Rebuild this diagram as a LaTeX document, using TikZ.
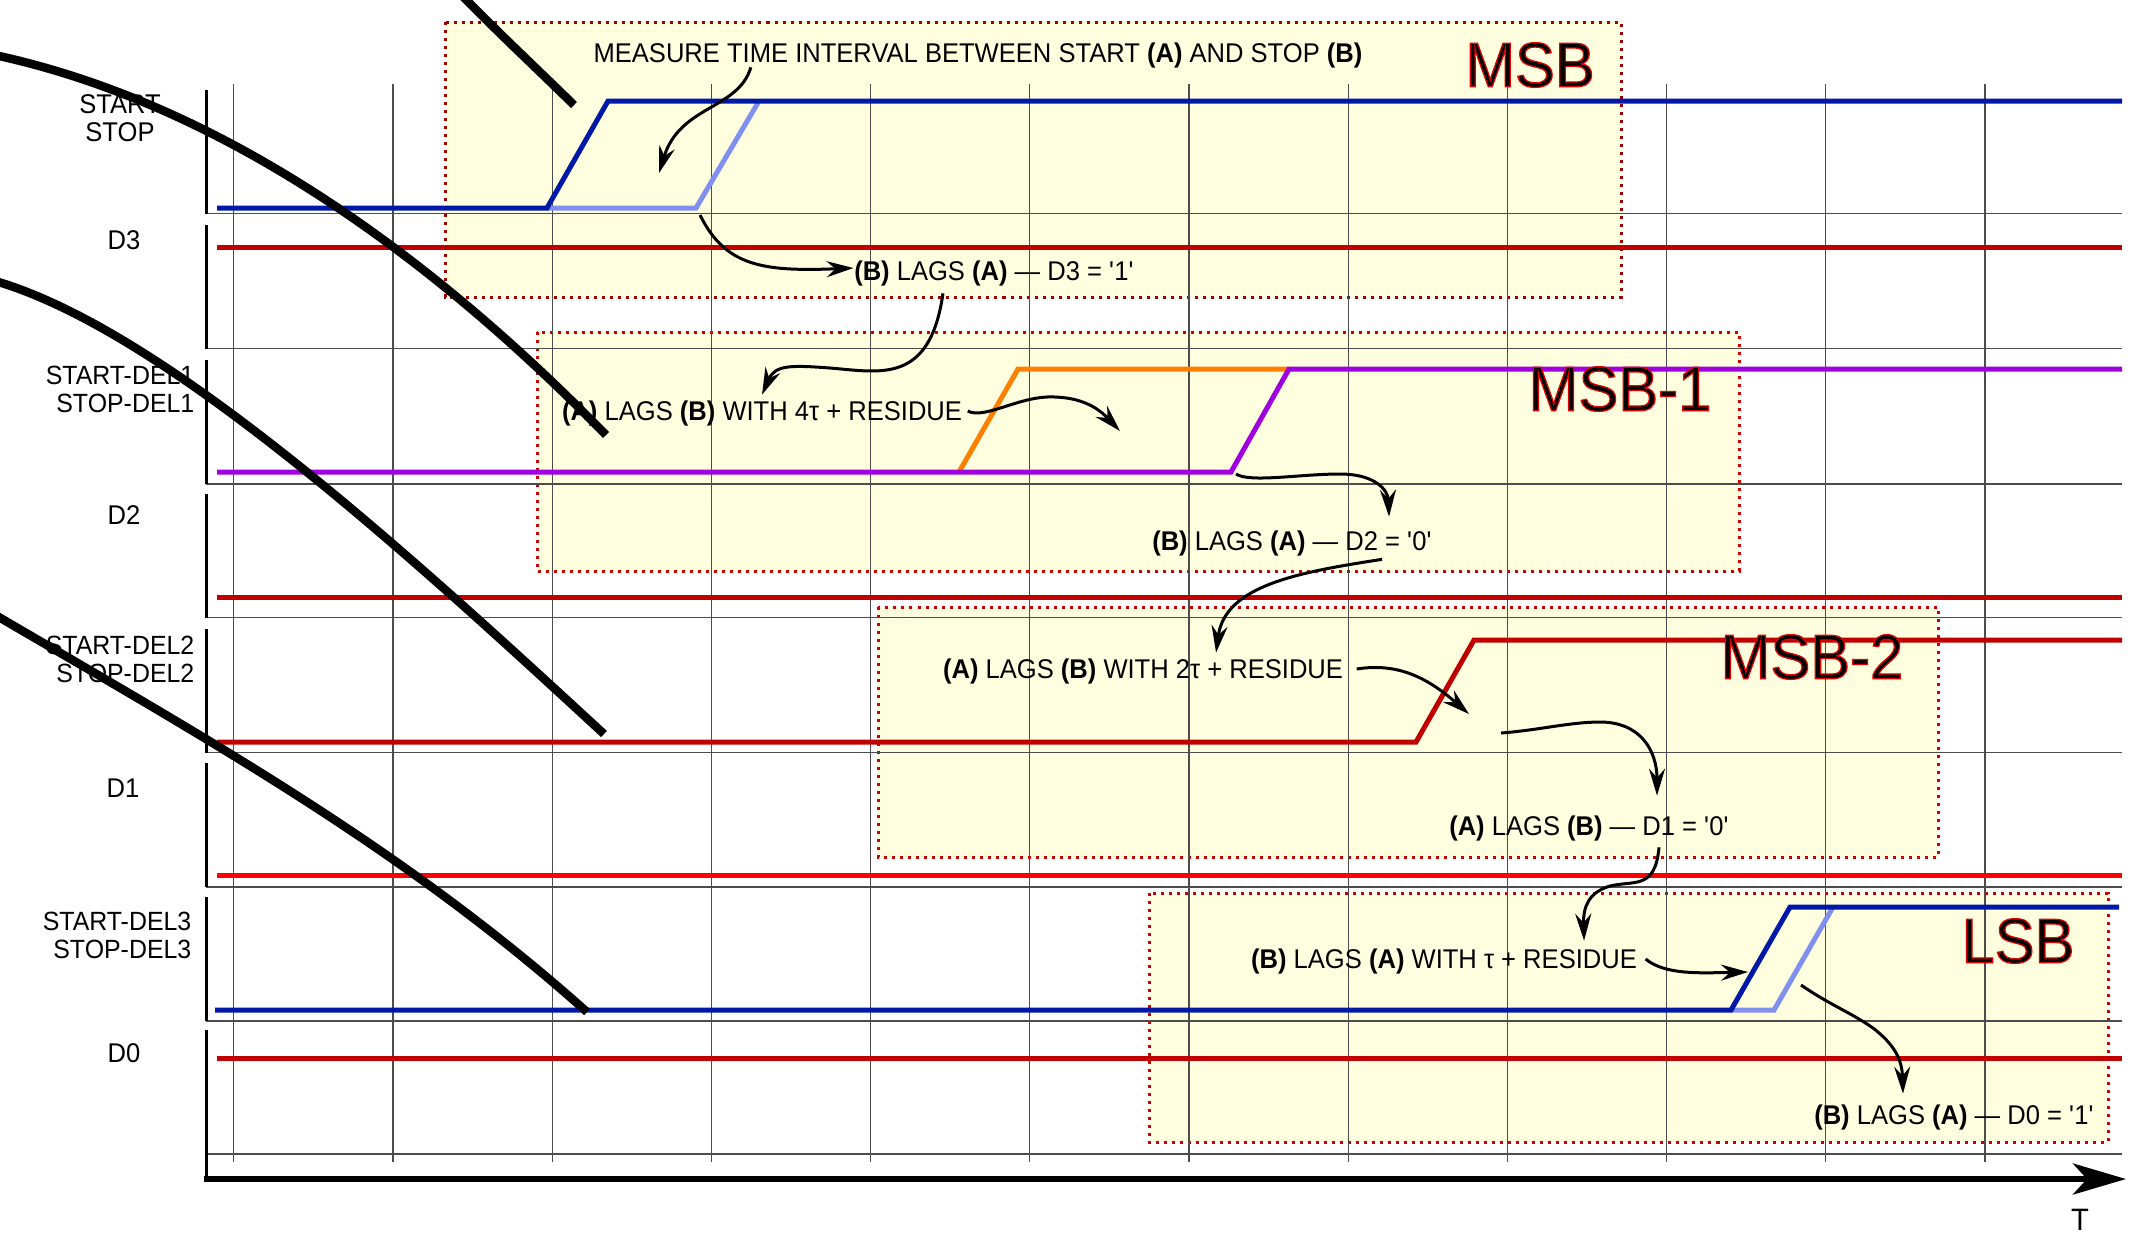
\documentclass[tikz,border=0pt]{standalone}
\usepackage{fontspec}
\usepackage{xcolor}
\setmainfont[FakeStretch=0.944]{Liberation Sans}
\usetikzlibrary{arrows.meta,positioning,calc}
\definecolor{sigblue}{HTML}{0018A8}
\definecolor{siglight}{HTML}{8090F0}
\definecolor{sigred}{HTML}{C00000}
\definecolor{sigbright}{HTML}{FF0000}
\definecolor{sigpurple}{HTML}{A000E0}
\definecolor{sigorange}{HTML}{FF8000}
\definecolor{stagefill}{HTML}{FFFFE0}
\newcommand{\redoutline}[1]{\special{pdf:code q 0.9 0 0 RG 0.35 w 2 Tr}#1\special{pdf:code Q}}
\newcommand{\sq}{\textquotesingle}

\begin{document}
\begin{tikzpicture}[
  x=0.01cm, y=-0.01cm,
  font=\fontsize{7.7}{8}\selectfont,
  stage/.style={fill=stagefill, line width=0.03cm, dash pattern=on 0.03cm off 0.05cm},
  gridline/.style={line width=0.012cm, color=black!70},
  rowaxis/.style={line width=0.03cm, color=black},
  signal/.style={line width=0.05cm, line join=miter},
  bigcurve/.style={line width=0.085cm, color=black},
  flow/.style={-{Stealth[length=0.27cm,width=0.16cm,inset=0.09cm]}, line width=0.03cm},
  rowlabel/.style={inner sep=0pt, align=center},
  dellabel/.style={inner sep=0pt, align=right, anchor=east, font=\fontsize{7.5}{8}\selectfont},
  note/.style={inner sep=0pt},
  stagename/.style={inner sep=0pt, font=\fontsize{18}{19}\selectfont},
]
\useasboundingbox (0,0) rectangle (2142,1235);

\draw[stage, color=sigred!80!black, fill=stagefill] (445,22) rectangle (1621,297);
\draw[stage, color=red!80!black, fill=stagefill] (537,332) rectangle (1739,571);
\draw[stage, color=red!80!black, fill=stagefill] (878,607) rectangle (1938,857);
\draw[stage, color=red!80!black, fill=stagefill] (1149,893) rectangle (2108,1142);

\foreach \k in {0,...,11}
  \draw[gridline] ({233.7+159.2*\k},84) -- ({233.7+159.2*\k},1162);
\foreach \y in {213.5,348.5,484,617.5,752.5,887,1021,1154}
  \draw[gridline] (206,\y) -- (2122,\y);
\foreach \a/\b in {90/213.5,225/348.5,360/484,494/617.5,629/752.5,763/887,897/1021,1030/1179}
  \draw[rowaxis] (206.5,\a) -- (206.5,\b);

\draw[signal, color=siglight] (547,208) -- (696,208) -- (759,101);
\draw[signal, color=sigblue] (217,208) -- (547,208) -- (608,101) -- (2122,101);
\draw[signal, color=sigred] (217,247) -- (2122,247);
\draw[signal, color=sigorange] (959,472) -- (1018,369) -- (1289,369);
\draw[signal, color=sigpurple] (217,472) -- (1231,472) -- (1289,369) -- (2122,369);
\draw[signal, color=sigred] (217,597) -- (2122,597);
\draw[signal, color=sigred] (217,742) -- (1416,742) -- (1474,640) -- (2122,640);
\draw[signal, color=sigbright] (217,875) -- (2122,875);
\draw[signal, color=siglight] (1731,1010) -- (1774,1010) -- (1833,907);
\draw[signal, color=sigblue] (215,1010) -- (1731,1010) -- (1790,907) -- (2119,907);
\draw[signal, color=sigred] (217,1058) -- (2122,1058);

\draw[line width=0.06cm, -{Stealth[length=0.53cm,width=0.31cm,inset=0.14cm]}] (204,1179) -- (2126,1179);

\draw[bigcurve] (445,-22) .. controls (490,25) and (530,62) .. (574,105);
\draw[bigcurve] (-20,52) .. controls (225,100) and (440,265) .. (606,435);
\draw[bigcurve] (-20,277) .. controls (150,317) and (400,546) .. (604,734);
\draw[bigcurve] (-20,606) .. controls (200,735) and (400,845) .. (587,1012);

\node[rowlabel] (labstart) at (120,118.5) {START\\STOP};
\node[rowlabel] (labdthree) at (124,240) {D3};
\node[dellabel] (labdelone) at (195,389) {START-DEL1\\STOP-DEL1};
\node[rowlabel] (labdtwo) at (124,515) {D2};
\node[dellabel] (labdeltwo) at (195,659) {START-DEL2\\STOP-DEL2};
\node[rowlabel] (labdone) at (123,788) {D1};
\node[dellabel] (labdelthree) at (192,935) {START-DEL3\\STOP-DEL3};
\node[rowlabel] (labdzero) at (124,1053) {D0};
\node[rowlabel, font=\fontsize{8.8}{10}\selectfont] (labt) at (2080,1220) {T};

\node[note] (notemeasure) at (978,55) {MEASURE TIME INTERVAL BETWEEN START \textbf{(A)} AND STOP \textbf{(B)}};
\node[note] (notedthree) at (994,273) {\textbf{(B)} LAGS \textbf{(A)} --- D3 = \sq1\sq};
\node[note] (notefour) at (762,413) {\textbf{(A)} LAGS \textbf{(B)} WITH 4τ + RESIDUE};
\node[note] (notedtwo) at (1292,543) {\textbf{(B)} LAGS \textbf{(A)} --- D2 = \sq0\sq};
\node[note] (notetwo) at (1143,671) {\textbf{(A)} LAGS \textbf{(B)} WITH 2τ + RESIDUE};
\node[note] (notedone) at (1589,828) {\textbf{(A)} LAGS \textbf{(B)} --- D1 = \sq0\sq};
\node[note] (notetau) at (1444,961) {\textbf{(B)} LAGS \textbf{(A)} WITH τ + RESIDUE};
\node[note] (notedzero) at (1954,1117) {\textbf{(B)} LAGS \textbf{(A)} --- D0 = \sq1\sq};

\node[stagename] (namemsb) at (1530,65) {\redoutline{MSB}};
\node[stagename] (namemsbone) at (1620,389) {\redoutline{MSB-1}};
\node[stagename] (namemsbtwo) at (1812,657) {\redoutline{MSB-2}};
\node[stagename] (namelsb) at (2018,941) {\redoutline{LSB}};

\coordinate (tipmeasure) at (659,173);
\coordinate (stoplow) at (700,215);
\coordinate (tipfour) at (1120,431);
\coordinate (stopone) at (1236,474);
\coordinate (tiptwo) at (1469,714);
\coordinate (starttwo) at (1501,733);
\coordinate (tiptau) at (1748,972);
\coordinate (stopthree) at (1801,985);

\draw[flow] ([xshift=-2.27cm,yshift=0.01cm]notemeasure.south) .. controls (738,110) and (680,105) .. (tipmeasure);
\draw[flow] (stoplow) .. controls (725,265) and (760,272) .. ([yshift=0.05cm]notedthree.west);
\draw[flow] ([xshift=-0.51cm,yshift=-0.07cm]notedthree.south) .. controls (930,385) and (880,372) .. (830,368)
  .. controls (790,365) and (775,365) .. ([yshift=0.05cm]notefour.north);
\draw[flow] ([xshift=0.05cm,yshift=0.02cm]notefour.east) .. controls (985,420) and (1020,395) .. (1055,397)
  .. controls (1085,398) and (1100,410) .. (tipfour);
\draw[flow] (stopone) .. controls (1250,483) and (1300,474) .. (1340,474)
  .. controls (1375,474) and (1388,490) .. ([xshift=0.97cm,yshift=0.13cm]notedtwo.north);
\draw[flow] ([xshift=0.9cm,yshift=-0.03cm]notedtwo.south) .. controls (1300,572) and (1225,585) .. ([xshift=0.73cm,yshift=0.05cm]notetwo.north);
\draw[flow] ([xshift=0.13cm,yshift=0.02cm]notetwo.east) .. controls (1400,662) and (1430,680) .. (tiptwo);
\draw[flow] (starttwo) .. controls (1540,730) and (1570,722) .. (1600,722)
  .. controls (1640,722) and (1657,750) .. ([xshift=0.68cm,yshift=0.19cm]notedone.north);
\draw[flow] ([xshift=0.7cm,yshift=-0.06cm]notedone.south) .. controls (1655,890) and (1635,880) .. (1610,886)
  .. controls (1590,892) and (1583,905) .. ([xshift=1.4cm,yshift=0.07cm]notetau.north);
\draw[flow] ([xshift=0.08cm,yshift=0.02cm]notetau.east) .. controls (1665,975) and (1700,973) .. (tiptau);
\draw[flow] (stopthree) .. controls (1830,1005) and (1850,1012) .. (1873,1028)
  .. controls (1895,1045) and (1902,1060) .. ([xshift=-0.51cm,yshift=0.1cm]notedzero.north);

\end{tikzpicture}
\end{document}
